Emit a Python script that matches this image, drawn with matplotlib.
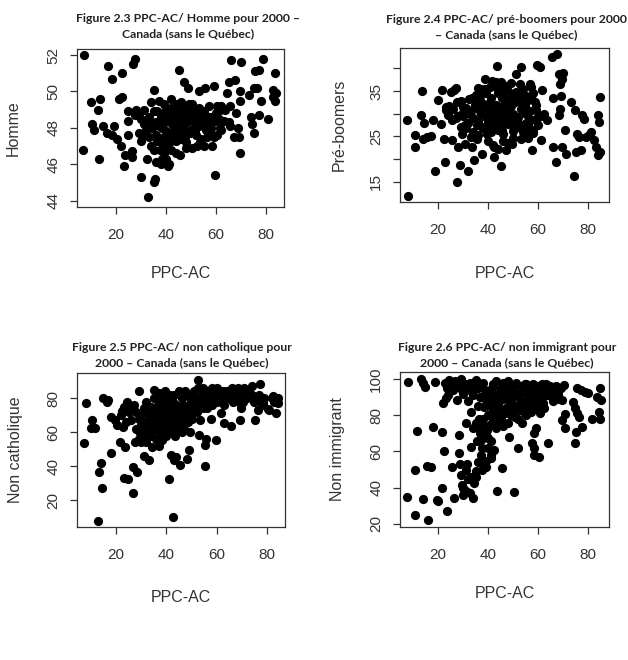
import matplotlib
matplotlib.use("Agg")
import matplotlib.pyplot as plt

# PPC-AC (x) et variable (y) pour chaque circonscription
homme = [
    (7.3, 52.0), (6.9, 46.8), (16.7, 51.4), (18.3, 50.7), (22.4, 51.0), (27.6, 51.8), (26.9, 51.5),
    (10.0, 49.4), (13.7, 49.6), (12.6, 49.0), (10.2, 48.2), (11.3, 47.9), (13.0, 46.3), (14.9, 48.1),
    (16.3, 47.7), (18.5, 47.6), (19.3, 48.1), (20.5, 47.4), (21.2, 49.6), (22.4, 49.7), (21.9, 47.0),
    (23.7, 46.5), (23.1, 45.9), (24.7, 47.6), (24.7, 48.4), (24.9, 48.9), (26.3, 46.7), (26.3, 46.4),
    (30.0, 45.3), (32.3, 46.3), (32.7, 44.2), (35.0, 45.0), (35.4, 45.2), (35.0, 50.1), (45.1, 51.2),
    (47.3, 50.5), (48.7, 50.2), (45.7, 46.5), (59.7, 45.4), (59.0, 50.3), (55.6, 50.2), (53.3, 50.0),
    (66.1, 51.7), (70.0, 51.6), (78.6, 51.8), (75.5, 51.1), (77.1, 51.2), (83.5, 51.0), (65.3, 50.5),
    (67.7, 50.6), (64.4, 49.9), (69.7, 50.0), (69.5, 49.5), (73.3, 49.8), (75.0, 50.2), (76.3, 50.2),
    (78.1, 49.5), (82.6, 50.1), (83.9, 49.9), (82.9, 49.7), (83.7, 49.5), (80.9, 48.5), (74.0, 48.6),
    (74.3, 48.2), (75.3, 47.7), (77.0, 48.7), (67.9, 48.8), (68.6, 48.0), (67.0, 47.5), (69.1, 47.5),
    (69.7, 46.6), (65.5, 48.1), (65.0, 48.3), (65.7, 49.2), (61.7, 49.0), (60.4, 47.6), (59.7, 48.4),
    (57.7, 47.9), (56.4, 47.5), (55.0, 47.0), (53.7, 47.2), (37.9, 46.0), (40.7, 45.9),
    (28.0, 49.0), (29.0, 48.8), (30.0, 48.5), (31.0, 48.2), (29.0, 47.7), (30.0, 47.3), (32.0, 47.9),
    (33.0, 48.6), (34.0, 49.4), (35.0, 48.9), (33.0, 47.5), (34.0, 47.0), (35.0, 46.8), (36.0, 47.6),
    (37.0, 48.1), (38.0, 48.6), (39.0, 49.3), (37.0, 49.5), (36.0, 48.3), (38.0, 47.2), (39.0, 46.6),
    (40.0, 46.9), (41.0, 46.0), (40.0, 47.8), (41.0, 48.4), (42.0, 49.1), (42.0, 49.6), (43.0, 48.7),
    (43.0, 47.9), (44.0, 48.3), (45.0, 49.0), (45.0, 48.5), (46.0, 47.8), (44.0, 47.3), (46.0, 49.4),
    (47.0, 48.9), (47.0, 48.2), (48.0, 48.7), (48.0, 47.6), (49.0, 48.9), (49.0, 49.3), (50.0, 48.5),
    (50.0, 47.9), (51.0, 49.0), (51.0, 48.3), (52.0, 48.8), (52.0, 47.6), (53.0, 49.1), (53.0, 48.1),
    (54.0, 48.6), (54.0, 47.4), (55.0, 48.9), (56.0, 48.3), (56.0, 47.9), (57.0, 48.6), (57.0, 49.2),
    (58.0, 48.0), (59.0, 47.5), (60.0, 48.8), (61.0, 48.5), (62.0, 49.2), (62.0, 47.9), (63.0, 48.4),
    (39.0, 47.5), (40.0, 46.3), (42.0, 46.8), (42.0, 47.3), (36.0, 46.1), (48.0, 47.2), (48.0, 46.9),
    (44.0, 46.6), (31.0, 49.0), (27.5, 48.7),
    (38.5, 48.0), (39.5, 48.3), (40.5, 48.6), (41.5, 48.9), (42.5, 48.2), (43.5, 48.5), (44.5, 48.8),
    (45.5, 48.1), (46.5, 48.5), (47.5, 48.7), (48.5, 48.3), (49.5, 48.6), (50.5, 48.9), (51.5, 48.6),
    (52.5, 48.3), (53.5, 48.7), (54.5, 48.2), (55.5, 48.5), (44.5, 49.3), (46.5, 49.0), (48.5, 49.1),
    (50.5, 49.3), (43.5, 47.6), (45.5, 47.4), (47.5, 47.8), (49.5, 47.7), (51.5, 47.9), (41.5, 47.6),
    (40.5, 47.2), (39.5, 48.9), (36.5, 48.9), (33.5, 48.2), (31.5, 47.6), (34.5, 48.0), (57.5, 48.2),
    (58.5, 48.6), (60.5, 49.2), (61.5, 48.0), (63.5, 49.0), (36.5, 47.3), (37.5, 46.8), (38.5, 46.3),
    (58.5, 47.0), (52.5, 47.0), (50.5, 46.9),
]

pre_boomers = [
    (8.0, 11.9), (7.3, 28.6), (10.7, 25.4), (10.7, 22.7), (12.9, 29.7), (13.6, 35.1), (14.3, 28.0),
    (13.9, 24.3), (15.6, 24.9), (16.9, 25.0), (17.9, 28.6), (18.5, 17.3), (19.9, 33.1), (20.9, 27.8),
    (21.6, 35.3), (22.3, 24.5), (22.7, 19.4), (22.9, 30.8), (24.3, 31.6), (24.9, 34.8), (25.3, 24.2),
    (26.3, 35.3), (26.9, 35.7), (27.6, 15.0), (28.0, 22.7), (28.5, 18.7), (28.9, 32.9), (29.3, 30.0),
    (29.6, 25.6), (30.5, 23.4), (32.0, 17.3), (32.3, 33.3), (33.3, 22.7), (34.3, 19.8), (35.3, 24.5),
    (36.0, 35.7), (36.9, 34.4), (37.3, 21.1), (38.7, 37.7), (39.9, 27.1), (41.6, 37.2), (42.3, 22.7),
    (42.3, 20.5), (43.6, 40.6), (42.9, 37.0), (45.1, 18.5), (47.1, 22.0), (48.0, 31.5), (49.3, 23.4),
    (50.9, 38.8), (52.9, 40.3), (53.2, 24.5), (54.9, 30.0), (57.2, 33.7), (57.6, 22.0), (59.3, 40.8),
    (60.7, 40.3), (61.5, 35.3), (60.9, 24.2), (59.0, 30.8), (62.3, 30.0), (63.6, 28.6), (65.3, 42.5),
    (67.3, 43.1), (66.0, 33.5), (65.7, 22.7), (66.9, 19.4), (68.3, 38.8), (68.7, 36.6), (70.0, 39.0),
    (69.6, 37.7), (69.0, 34.0), (68.7, 31.1), (68.4, 29.7), (69.6, 22.7), (70.5, 26.4), (70.9, 21.2),
    (73.2, 32.6), (74.3, 16.3), (74.7, 30.8), (75.6, 25.6), (76.3, 24.9), (75.1, 21.6), (76.9, 22.0),
    (77.6, 29.7), (78.3, 28.9), (78.9, 24.9), (80.3, 25.3), (81.2, 26.0), (82.3, 24.2), (82.9, 22.7),
    (83.9, 20.9), (84.5, 33.7), (84.0, 29.7), (84.2, 28.2), (84.6, 21.6),
    (30.0, 29.5), (31.0, 31.2), (32.0, 28.0), (33.0, 30.5), (34.0, 29.0), (35.0, 31.5), (36.0, 28.3),
    (37.0, 30.0), (38.0, 32.2), (39.0, 29.2), (40.0, 31.0), (41.0, 33.5), (42.0, 30.2), (43.0, 32.0),
    (44.0, 34.5), (45.0, 31.5), (46.0, 29.0), (47.0, 33.0), (48.0, 35.0), (49.0, 31.8), (50.0, 30.0),
    (51.0, 33.5), (52.0, 27.0), (53.0, 32.5), (54.0, 35.5), (55.0, 30.5), (56.0, 33.0), (57.0, 28.5),
    (58.0, 34.5), (34.0, 26.0), (36.0, 25.2), (38.0, 26.8), (40.0, 28.2), (42.0, 27.5), (44.0, 26.5),
    (46.0, 25.5), (48.0, 27.8), (50.0, 26.2), (52.0, 29.2), (54.0, 26.0), (56.0, 27.2), (58.0, 25.8),
    (31.0, 26.8), (33.0, 24.8), (35.0, 34.2), (37.0, 35.5), (39.0, 34.5), (43.0, 35.8), (45.0, 37.0),
    (47.0, 36.2), (49.0, 36.8), (51.0, 34.8), (53.0, 31.0), (55.0, 34.0), (57.0, 35.8), (59.0, 32.0),
    (28.0, 29.5), (29.0, 27.0), (30.0, 31.5), (26.0, 31.0), (27.0, 29.0), (24.0, 29.8), (23.0, 31.5),
    (40.0, 24.0), (42.0, 23.0), (44.0, 22.2), (46.0, 24.0), (48.0, 23.5), (50.0, 24.6), (56.0, 24.6),
    (58.0, 26.5), (60.0, 27.5), (61.0, 29.5), (45.0, 28.0), (47.0, 30.5), (41.0, 26.0),
    (32.5, 30.0), (34.5, 32.0), (36.5, 30.5), (38.5, 30.0), (40.5, 32.5), (42.5, 31.5), (44.5, 30.0),
    (46.5, 32.0), (48.5, 29.5), (50.5, 32.5), (52.5, 34.0), (54.5, 32.0), (56.5, 30.5), (58.5, 32.5),
    (35.5, 27.5), (37.5, 27.0), (39.5, 25.5), (43.5, 28.5), (45.5, 26.5), (49.5, 28.0), (51.5, 28.5),
    (53.5, 27.5), (55.5, 25.5), (57.5, 26.5), (41.5, 29.5), (45.5, 33.5), (49.5, 34.0), (33.5, 33.5),
    (30.5, 27.5), (27.5, 32.5), (25.5, 28.5), (44.5, 36.0), (46.5, 35.0), (52.5, 36.5), (56.5, 36.5),
    (38.5, 35.5), (40.5, 36.0), (36.5, 33.0), (55.0, 28.0), (59.5, 29.0),
]

non_catholique = [
    (7.3, 53.8), (8.0, 77.0), (10.5, 67.2), (10.0, 62.3), (11.6, 62.3), (12.9, 7.8), (13.2, 36.3),
    (13.9, 41.6), (14.3, 26.9), (14.9, 80.0), (16.3, 78.0), (16.9, 79.0), (17.9, 47.9), (18.1, 69.2),
    (19.6, 67.2), (20.5, 64.3), (21.6, 54.4), (22.3, 72.7), (22.9, 63.3), (23.2, 32.8), (23.6, 51.5),
    (24.3, 78.0), (24.9, 32.2), (26.0, 67.2), (26.7, 39.6), (26.7, 24.3), (27.6, 54.4), (28.3, 36.7),
    (29.0, 84.3), (29.6, 59.3), (31.0, 46.0), (33.0, 43.6), (34.3, 51.5), (35.0, 84.9), (37.0, 79.0),
    (38.3, 55.4), (41.0, 32.4), (41.7, 46.5), (42.7, 10.1), (42.9, 43.6), (44.0, 45.2), (45.6, 40.6),
    (48.0, 44.0), (48.9, 49.5), (49.3, 60.3), (52.4, 90.8), (53.0, 58.3), (53.4, 67.2), (55.3, 40.0),
    (55.3, 52.4), (55.7, 55.8), (57.7, 67.6), (59.7, 55.4), (61.7, 71.5), (63.0, 65.2), (65.7, 63.7),
    (69.1, 67.2), (69.7, 74.1), (75.1, 67.2), (74.0, 87.5), (77.1, 88.3), (76.4, 73.1), (78.4, 77.4),
    (80.4, 73.5), (82.4, 81.4), (83.8, 71.5), (84.4, 77.0), (84.4, 80.0),
    (26.0, 74.0), (27.0, 76.0), (28.0, 72.0), (29.0, 68.0), (30.0, 70.0), (30.0, 64.0), (31.0, 74.0),
    (31.0, 60.0), (32.0, 78.0), (32.0, 66.0), (33.0, 70.0), (33.0, 62.0), (34.0, 75.0), (34.0, 58.0),
    (35.0, 80.0), (35.0, 68.0), (36.0, 72.0), (36.0, 64.0), (37.0, 83.0), (37.0, 60.0), (38.0, 70.0),
    (38.0, 76.0), (39.0, 66.0), (39.0, 80.0), (40.0, 72.0), (40.0, 62.0), (41.0, 78.0), (41.0, 68.0),
    (42.0, 74.0), (42.0, 64.0), (43.0, 82.0), (43.0, 70.0), (44.0, 76.0), (44.0, 60.0), (45.0, 84.0),
    (45.0, 72.0), (46.0, 66.0), (46.0, 80.0), (47.0, 74.0), (47.0, 62.0), (48.0, 70.0), (48.0, 82.0),
    (49.0, 76.0), (50.0, 78.0), (50.0, 68.0), (51.0, 84.0), (51.0, 74.0), (52.0, 80.0), (52.0, 72.0),
    (53.0, 86.0), (54.0, 82.0), (55.0, 78.0), (56.0, 84.0), (56.0, 74.0), (57.0, 80.0), (58.0, 86.0),
    (58.0, 76.0), (59.0, 82.0), (60.0, 86.0), (60.0, 78.0), (61.0, 84.0), (62.0, 80.0), (63.0, 76.0),
    (64.0, 84.0), (65.0, 82.0), (66.0, 86.0), (67.0, 80.0), (68.0, 84.0), (69.0, 78.0), (70.0, 82.0),
    (71.0, 86.0), (72.0, 80.0), (73.0, 84.0), (74.0, 82.0), (75.0, 78.0), (76.0, 80.0), (77.0, 82.0),
    (78.0, 76.0), (79.0, 80.0), (81.0, 73.0), (82.0, 80.0), (83.0, 78.0), (28.0, 62.0), (29.0, 56.0),
    (30.0, 54.0), (31.0, 57.0), (32.0, 54.0), (33.0, 60.0), (36.0, 56.0), (37.0, 52.0), (38.0, 58.0),
    (40.0, 58.0), (42.0, 60.0), (44.0, 64.0), (46.0, 60.0), (47.0, 66.0), (22.0, 70.0), (24.0, 66.0),
    (25.0, 72.0), (23.0, 75.0),
    (32.5, 72.0), (34.5, 70.0), (36.5, 76.0), (38.5, 73.0), (40.5, 76.0), (42.5, 78.0), (44.5, 72.0),
    (46.5, 76.0), (48.5, 74.0), (50.5, 72.0), (52.5, 76.0), (54.5, 74.0), (56.5, 78.0), (58.5, 80.0),
    (60.5, 82.0), (62.5, 84.0), (64.5, 80.0), (66.5, 82.0), (68.5, 86.0), (70.5, 78.0), (72.5, 84.0),
    (36.5, 68.0), (38.5, 64.0), (40.5, 68.0), (42.5, 68.0), (44.5, 68.0), (46.5, 70.0), (48.5, 66.0),
    (50.5, 82.0), (52.5, 86.0), (54.5, 86.0), (56.5, 82.0), (39.5, 62.0), (37.5, 66.0), (35.5, 62.0),
    (33.5, 66.0), (31.5, 64.0), (45.5, 62.0), (43.5, 58.0), (41.5, 82.0), (39.5, 84.0), (47.5, 84.0),
    (49.5, 80.0), (62.5, 78.0), (66.5, 78.0),
]

non_immigrant = [
    (7.6, 35.1), (8.0, 98.2), (10.7, 25.0), (10.7, 49.8), (11.6, 71.3), (12.9, 99.8), (13.9, 97.6),
    (14.5, 95.8), (14.0, 33.6), (15.6, 52.0), (16.0, 21.9), (17.2, 51.7), (17.9, 73.3), (18.5, 98.2),
    (19.6, 33.3), (19.9, 32.4), (21.3, 39.7), (21.6, 71.0), (22.0, 86.6), (22.3, 60.3), (22.9, 89.3),
    (23.6, 27.4), (24.3, 99.4), (24.9, 96.7), (25.3, 51.7), (26.3, 34.2), (27.6, 88.4), (28.3, 59.0),
    (28.3, 69.1), (28.5, 52.9), (29.0, 99.8), (29.0, 47.1), (29.6, 41.5), (29.7, 36.0), (31.0, 75.9),
    (31.6, 52.9), (32.9, 62.3), (32.7, 37.3), (34.0, 34.2), (34.3, 42.5), (34.9, 46.1), (35.2, 99.4),
    (36.3, 77.8), (36.9, 66.4), (37.6, 49.8), (38.3, 84.4), (38.9, 51.7), (39.3, 71.9), (39.9, 67.3),
    (40.9, 56.3), (42.3, 60.8), (43.3, 38.2), (45.6, 51.1), (44.0, 81.1), (48.3, 67.8), (50.3, 37.9),
    (52.0, 61.8), (53.3, 75.6), (57.6, 64.5), (58.3, 61.8), (58.3, 58.1), (60.3, 57.2), (60.7, 81.1),
    (59.0, 72.8), (58.1, 70.0), (64.0, 64.9), (62.3, 83.8), (65.6, 90.3), (66.7, 93.0), (68.3, 89.0),
    (69.6, 77.4), (70.7, 80.5), (70.5, 72.8), (69.6, 88.4), (70.3, 96.7), (74.0, 87.5), (74.5, 83.8),
    (74.9, 71.0), (74.7, 64.9), (75.6, 81.1), (76.4, 78.9), (77.6, 73.3), (75.6, 94.9), (76.9, 93.9),
    (78.5, 93.0), (79.9, 92.5), (81.6, 77.8), (83.6, 90.3), (84.5, 94.9), (84.3, 82.0), (84.6, 77.8),
    (84.9, 88.4),
    (36.0, 95.0), (37.0, 90.0), (38.0, 98.0), (39.0, 86.0), (40.0, 93.0), (41.0, 88.0), (42.0, 97.0),
    (42.0, 82.0), (43.0, 91.0), (44.0, 86.0), (45.0, 95.0), (45.0, 78.0), (46.0, 89.0), (47.0, 84.0),
    (47.0, 97.0), (48.0, 92.0), (49.0, 87.0), (49.0, 80.0), (50.0, 95.0), (50.0, 90.0), (51.0, 84.0),
    (51.0, 98.0), (52.0, 92.0), (52.0, 78.0), (53.0, 88.0), (53.0, 96.0), (54.0, 85.0), (54.0, 93.0),
    (55.0, 80.0), (55.0, 97.0), (56.0, 90.0), (56.0, 86.0), (57.0, 94.0), (57.0, 82.0), (58.0, 97.0),
    (58.0, 89.0), (59.0, 92.0), (59.0, 86.0), (60.0, 96.0), (61.0, 90.0), (62.0, 94.0), (63.0, 97.0),
    (64.0, 91.0), (65.0, 95.0), (66.0, 88.0), (67.0, 96.0), (68.0, 92.0), (69.0, 95.0), (62.0, 87.0),
    (60.0, 84.0), (44.0, 76.0), (43.0, 73.0), (46.0, 74.0), (48.0, 76.0), (41.0, 75.0), (40.0, 80.0),
    (38.0, 78.0), (37.0, 74.0), (35.0, 76.0), (34.0, 73.0), (33.0, 82.0), (32.0, 88.0), (31.0, 95.0),
    (30.0, 92.0), (28.0, 96.0), (27.0, 97.0), (26.0, 94.0), (24.0, 91.0), (33.0, 97.0), (34.0, 91.0),
    (36.0, 85.0), (39.0, 70.0), (41.0, 66.0), (40.0, 62.0), (37.0, 58.0), (36.0, 54.0), (35.0, 49.0),
    (33.0, 46.0), (32.0, 45.0), (31.0, 50.0), (30.0, 40.0), (31.0, 38.0), (39.0, 55.0), (38.0, 53.0),
    (41.0, 58.0), (42.0, 84.0), (43.0, 99.0), (46.0, 98.0), (48.0, 99.0),
    (41.5, 95.0), (42.5, 91.0), (43.5, 87.0), (44.5, 93.0), (45.5, 89.0), (46.5, 95.0), (47.5, 91.0),
    (48.5, 87.0), (49.5, 93.0), (50.5, 85.0), (51.5, 91.0), (52.5, 87.0), (53.5, 93.0), (54.5, 97.0),
    (55.5, 89.0), (56.5, 95.0), (57.5, 91.0), (58.5, 93.0), (59.5, 95.0), (60.5, 91.0), (61.5, 97.0),
    (62.5, 91.0), (63.5, 94.0), (64.5, 96.0), (65.5, 92.0), (66.5, 95.0), (44.5, 83.0), (46.5, 81.0),
    (48.5, 83.0), (50.5, 79.0), (52.5, 83.0), (54.5, 81.0), (56.5, 83.0), (40.5, 85.0), (41.5, 79.0),
    (39.5, 90.0), (38.5, 94.0), (37.5, 97.0), (36.5, 90.0), (35.5, 95.0), (34.5, 97.0), (33.5, 93.0),
    (32.5, 98.0), (30.5, 97.0), (29.5, 94.0), (26.5, 99.0), (25.5, 97.0), (23.5, 95.0), (22.5, 98.0),
    (42.5, 77.0), (38.5, 74.0), (36.5, 70.0), (35.5, 66.0), (37.5, 62.0),
]

titres = [
    "Figure 2.3 PPC-AC/ Homme pour 2000 –\nCanada (sans le Québec)",
    "Figure 2.4 PPC-AC/ pré-boomers pour 2000\n– Canada (sans le Québec)",
    "Figure 2.5 PPC-AC/ non catholique pour\n2000 – Canada (sans le Québec)",
    "Figure 2.6 PPC-AC/ non immigrant pour\n2000 – Canada (sans le Québec)",
]
ylabels = ["Homme", "Pré-boomers", "Non catholique", "Non immigrant"]
xticks = [20, 40, 60, 80]
yticks = [[44, 46, 48, 50, 52], [15, 20, 25, 30, 35, 40], [20, 40, 60, 80], [20, 40, 60, 80, 100]]
ytick_labels = [["44", "46", "48", "50", "52"], ["15", "", "25", "", "35", ""],
                ["20", "40", "60", "80"], ["20", "40", "60", "80", "100"]]

plt.rcParams["font.family"] = ["Liberation Sans", "DejaVu Sans"]

fig = plt.figure(figsize=(6.28, 6.6), dpi=100)
W, H = 628, 660

# boites des axes en pixels (gauche, haut, droite, bas)
boites = [(77, 49, 284, 207), (400, 48, 609, 202), (77, 373, 285, 527), (400, 372, 609, 527)]
xlims = [(4.4, 87.2), (4.7, 88.3), (4.4, 87.2), (4.7, 88.3)]
ylims = [(43.65, 52.33), (10.5, 44.5), (4.1, 94.9), (18.3, 103.9)]
titre_pos = [(188, 26), (506, 27), (182, 355), (507, 355)]
ylab_x = [21, 347, 23, 345]
xlab_y = [266, 266, 590, 586]

donnees = [homme, pre_boomers, non_catholique, non_immigrant]

for i in range(4):
    l, t, r, b = boites[i]
    ax = fig.add_axes([l / W, 1 - b / H, (r - l) / W, (b - t) / H])
    xs = [p[0] for p in donnees[i]]
    ys = [p[1] for p in donnees[i]]
    ax.scatter(xs, ys, s=44, c="black", linewidths=0)
    ax.set_xlim(*xlims[i])
    ax.set_ylim(*ylims[i])
    ax.set_xticks(xticks)
    ax.set_yticks(yticks[i])
    ax.set_yticklabels(ytick_labels[i], rotation=90, va="center")
    ax.tick_params(length=5, width=0.9, color="#333333", labelsize=11,
                   labelcolor="#333333", pad=7)
    ax.tick_params(axis="x", pad=10)
    for s in ax.spines.values():
        s.set_color("#333333")
        s.set_linewidth(0.9)
    ax.set_xlabel("PPC-AC", fontsize=11.5, color="#333333")
    ax.set_ylabel(ylabels[i], fontsize=11.5, color="#333333")
    ax.xaxis.set_label_coords(0.5, (b - xlab_y[i]) / (b - t))
    ax.yaxis.set_label_coords((ylab_x[i] - l) / (r - l), 0.5)
    tx, ty = titre_pos[i]
    fig.text(tx / W, 1 - ty / H, titres[i], ha="center", va="center",
             fontsize=8.8, fontweight="bold", family=["Lato", "DejaVu Sans"],
             linespacing=1.45, color="#222222")

fig.savefig("out.png", dpi=100)
